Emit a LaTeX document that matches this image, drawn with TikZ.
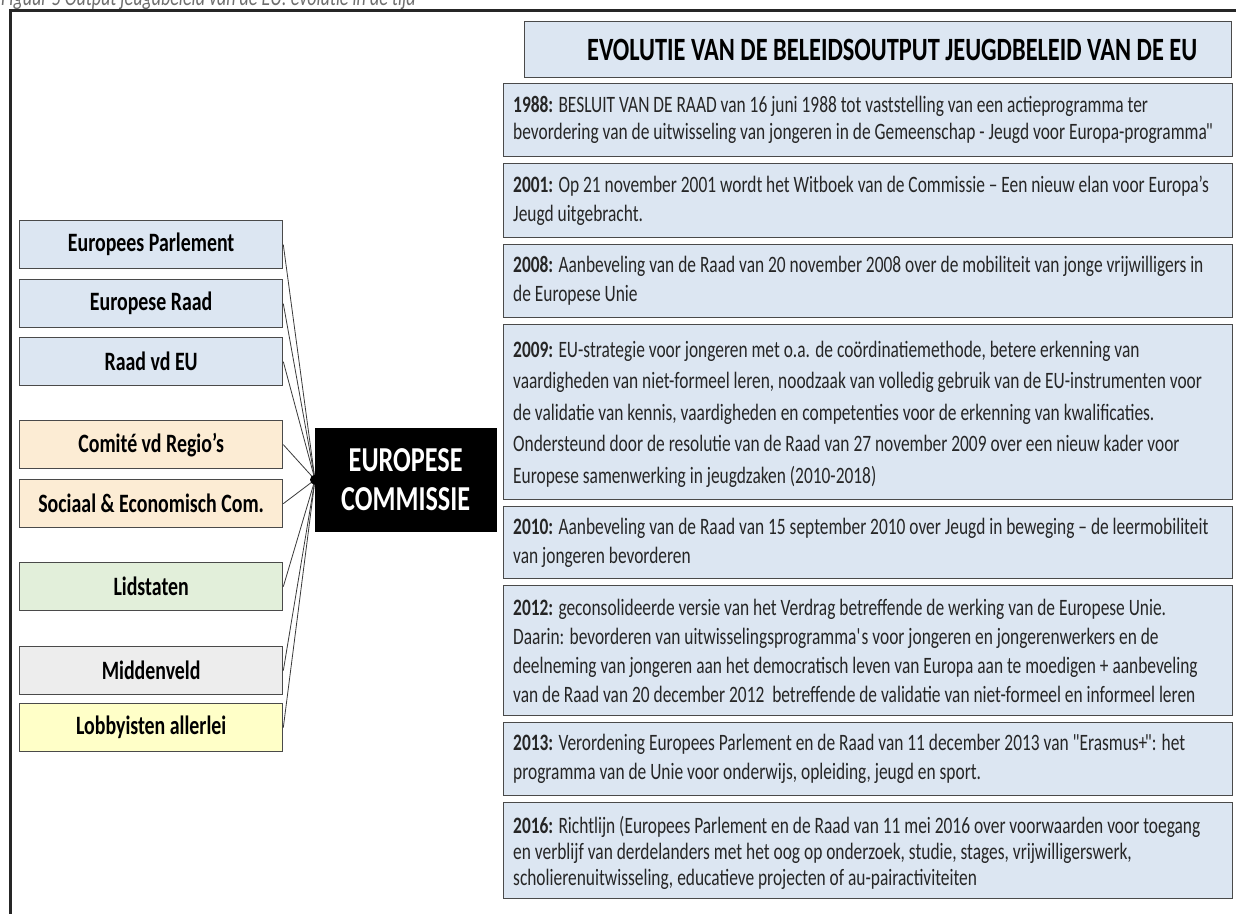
\documentclass[tikz,border=0pt]{standalone}
\usepackage{fontspec}
\setmainfont{Carlito}[FakeStretch=0.74]
\newfontfamily\condfont{Carlito}[FakeStretch=0.75]
\definecolor{bluefill}{HTML}{DCE6F2}
\definecolor{peachfill}{HTML}{FCECD4}
\definecolor{greenfill}{HTML}{E2EFDA}
\definecolor{grayfill}{HTML}{EDEDED}
\definecolor{yellowfill}{HTML}{FFFFC8}
\definecolor{boxline}{HTML}{4A4A4A}
\definecolor{linegray}{HTML}{3A3A3A}
\definecolor{textgray}{HTML}{262626}
\definecolor{capgray}{HTML}{6E6E6E}
\tikzset{
  lbox/.style={draw=boxline, line width=1.3pt, minimum width=263pt, minimum height=48pt,
    anchor=north west, inner sep=0pt, text=black,
    font=\condfont\fontsize{26.5}{30}\selectfont\bfseries},
  rbox/.style={draw=boxline, line width=1.3pt, fill=bluefill, anchor=north west,
    inner sep=0pt, minimum width=729pt},
  rtext/.style={anchor=west, align=left, inner sep=0pt, text=textgray,
    font=\fontsize{23.5}{29}\selectfont},
  conn/.style={draw=linegray, line width=0.8pt},
}
\begin{document}
\begin{tikzpicture}[x=1pt,y=-1pt]
\useasboundingbox (0,0) rectangle (1236,913);
\clip (0,0) rectangle (1236,913);
\fill[white] (0,0) rectangle (1236,913);
% caption (cut off at top)
\node[anchor=base west, inner sep=0pt, text=capgray,
  font=\condfont\fontsize{24}{28}\selectfont\itshape] (cap) at (1,5.5)
  {Figuur 5 Output jeugdbeleid van de EU: evolutie in de tijd};
% outer frame
\draw[line width=2.4pt, draw=black!85] (10.5,930) -- (10.5,10.5) -- (1250,10.5);

% left boxes
\node[lbox, fill=bluefill] (ep) at (19,220) {Europees Parlement};
\node[lbox, fill=bluefill] (er) at (19,279) {Europese Raad};
\node[lbox, fill=bluefill] (rvd) at (19,337) {Raad vd EU};
\node[lbox, fill=peachfill] (cvr) at (19,420) {Comité vd Regio’s};
\node[lbox, fill=peachfill] (sec) at (19,479) {Sociaal \& Economisch Com.};
\node[lbox, fill=greenfill] (lid) at (19,562) {Lidstaten};
\node[lbox, fill=grayfill] (mid) at (19,646) {Middenveld};
\node[lbox, fill=yellowfill] (lob) at (19,703) {Lobbyisten allerlei};

% central box
\node[draw=black, fill=black, minimum width=181pt, minimum height=103pt,
  anchor=north west, inner sep=0pt, text=white, align=center,
  font=\condfont\fontsize{35}{39}\selectfont\bfseries] (ec) at (315,428) {EUROPESE\\COMMISSIE};
\coordinate (hub) at (ec.west);
\foreach \n in {ep,er,rvd,cvr,sec,lid,mid,lob}{
  \draw[conn] (\n.east) -- (hub);
}
\node[circle, fill=black, minimum size=10pt, inner sep=0pt] (dot) at (hub) {};

% right column
\node[draw=boxline, line width=1.3pt, fill=bluefill, anchor=north west, inner sep=0pt,
  minimum width=707pt, minimum height=56pt] (title) at (524,21) {};
\node[inner sep=0pt, text=black, font=\condfont\fontsize{32.5}{36}\selectfont\bfseries]
  (ttext) at ([xshift=14pt]title.center)
  {EVOLUTIE VAN DE BELEIDSOUTPUT JEUGDBELEID VAN DE EU};

\node[rbox, minimum height=73pt] (b1988) at (503,83) {};
\node[rtext, font=\fontsize{23.5}{27}\selectfont] (t1988) at ([xshift=10pt]b1988.west)
  {\textbf{1988:} BESLUIT VAN DE RAAD van 16 juni 1988 tot vaststelling van een actieprogramma ter\\
   bevordering van de uitwisseling van jongeren in de Gemeenschap - Jeugd voor Europa-programma\kern-1pt\textquotedbl};

\node[rbox, minimum height=74pt] (b2001) at (503,163) {};
\node[rtext] (t2001) at ([xshift=10pt]b2001.west)
  {\textbf{2001:} Op 21 november 2001 wordt het Witboek van de Commissie – Een nieuw elan voor Europa’s\\
   Jeugd uitgebracht.};

\node[rbox, minimum height=73pt] (b2008) at (503,244) {};
\node[rtext] (t2008) at ([xshift=10pt]b2008.west)
  {\textbf{2008:} Aanbeveling van de Raad van 20 november 2008 over de mobiliteit van jonge vrijwilligers in\\
   de Europese Unie};

\node[rbox, minimum height=175pt] (b2009) at (503,324) {};
\node[rtext, font=\fontsize{23.5}{31.5}\selectfont] (t2009) at ([xshift=10pt,yshift=-2pt]b2009.west)
  {\textbf{2009:} EU-strategie voor jongeren met o.a. de coördinatiemethode, betere erkenning van\\
   vaardigheden van niet-formeel leren, noodzaak van volledig gebruik van de EU-instrumenten voor\\
   de validatie van kennis, vaardigheden en competenties voor de erkenning van kwalificaties.\\
   Ondersteund door de resolutie van de Raad van 27 november 2009 over een nieuw kader voor\\
   Europese samenwerking in jeugdzaken (2010-2018)};

\node[rbox, minimum height=72pt] (b2010) at (503,506) {};
\node[rtext] (t2010) at ([xshift=10pt]b2010.west)
  {\textbf{2010:} Aanbeveling van de Raad van 15 september 2010 over Jeugd in beweging – de leermobiliteit\\
   van jongeren bevorderen};

\node[rbox, minimum height=130pt] (b2012) at (503,585) {};
\node[rtext] (t2012) at ([xshift=10pt]b2012.west)
  {\textbf{2012:} geconsolideerde versie van het Verdrag betreffende de werking van de Europese Unie.\\
   Daarin: bevorderen van uitwisselingsprogramma\textquotesingle s voor jongeren en jongerenwerkers en de\\
   deelneming van jongeren aan het democratisch leven van Europa aan te moedigen + aanbeveling\\
   van de Raad van 20 december 2012 \ betreffende de validatie van niet-formeel en informeel leren};

\node[rbox, minimum height=73pt] (b2013) at (503,722) {};
\node[rtext] (t2013) at ([xshift=10pt]b2013.west)
  {\textbf{2013:} Verordening Europees Parlement en de Raad van 11 december 2013 van \textquotedbl\kern-2.5pt Erasmus+\kern-2.5pt\textquotedbl\kern-2.5pt: het\\
   programma van de Unie voor onderwijs, opleiding, jeugd en sport.};

\node[rbox, minimum height=96pt] (b2016) at (503,802) {};
\node[rtext, font=\fontsize{23.5}{26}\selectfont] (t2016) at ([xshift=10pt,yshift=-2pt]b2016.west)
  {\textbf{2016:} Richtlijn (Europees Parlement en de Raad van 11 mei 2016 over voorwaarden voor toegang\\
   en verblijf van derdelanders met het oog op onderzoek, studie, stages, vrijwilligerswerk,\\
   scholierenuitwisseling, educatieve projecten of au-pairactiviteiten};
\end{tikzpicture}
\end{document}
